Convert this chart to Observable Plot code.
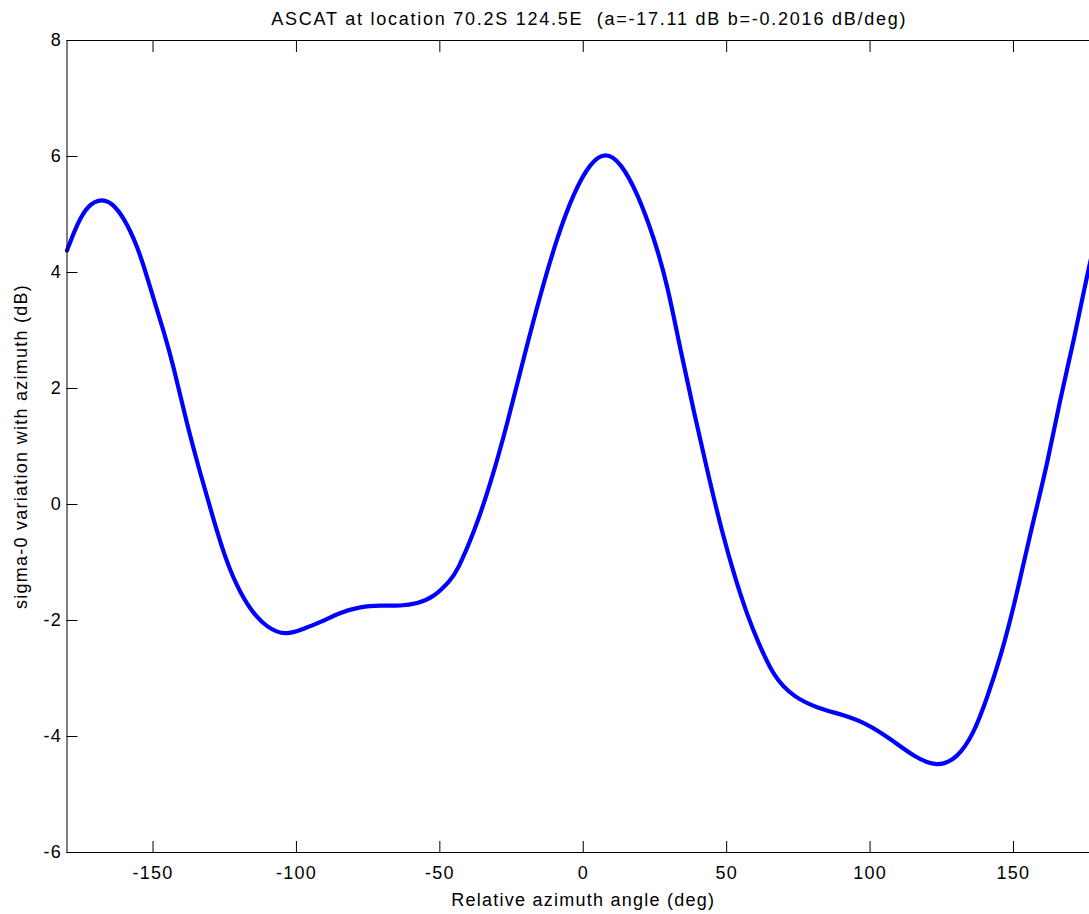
<!DOCTYPE html>
<html>
<head>
<meta charset="utf-8">
<script src="https://cdn.jsdelivr.net/npm/d3@7"></script>
<script src="https://cdn.jsdelivr.net/npm/@observablehq/plot@0.6"></script>
<style>
html, body { margin: 0; padding: 0; background: #fff; overflow: hidden; }
#chart { width: 1100px; height: 914px; overflow: hidden; }
#chart svg { max-width: none !important; }
</style>
</head>
<body>
<div id="chart"></div>
<script>
// Relative azimuth angle (deg)
const azimuth = [
  -180, -176.4, -173, -167.7, -163.1, -159, -154.4, -150.3, -146.2, -142.8,
  -138.5, -133.5, -128.8, -125.3, -121.2, -116, -110.2, -103.8, -97.4, -91.6,
  -84.6, -77.7, -70.7, -63.7, -57.9, -52.1, -46.3, -43.9, -38.2, -32.3,
  -26.5, -20.7, -14.9, -9.1, -3.3, 2.5, 7.8, 13, 18.8, 24.6,
  29.3, 33.9, 38.5, 43.2, 48.5, 53, 57.5, 60.7, 66.4, 73.4, 81.6,
  90.9, 99, 107.1, 115.3, 123.4, 130.4, 136.2, 140.9, 145.5, 150.1,
  154.8, 157.1, 161.8, 166.4, 171.1, 175.7, 180
];
// sigma-0 variation with azimuth (dB)
const sigma0 = [
  4.38, 4.84, 5.15, 5.29, 5.15, 4.84, 4.32, 3.62, 2.98, 2.37,
  1.45, 0.53, -0.28, -0.85, -1.37, -1.83, -2.13, -2.26, -2.14, -2.03,
  -1.86, -1.76, -1.74, -1.75, -1.71, -1.6, -1.31, -1.14, -0.5, 0.36,
  1.39, 2.54, 3.63, 4.61, 5.38, 5.9, 6.08, 5.9, 5.38, 4.61,
  3.8, 2.66, 1.62, 0.59, -0.5, -1.28, -1.95, -2.34, -2.98, -3.32, -3.51,
  -3.63, -3.78, -4.04, -4.35, -4.53, -4.38, -3.95, -3.32, -2.63, -1.77,
  -0.74, -0.25, 0.7, 1.85, 2.83, 3.98, 4.85
];
const xTicks = [-150, -100, -50, 0, 50, 100, 150];
const yTicks = [-6, -4, -2, 0, 2, 4, 6, 8];
const titleText = "ASCAT at location 70.2S 124.5E  (a=-17.11 dB b=-0.2016 dB/deg)";
const xLabel = "Relative azimuth angle (deg)";
const yLabel = "sigma-0 variation with azimuth (dB)";

const data = azimuth.map((a, i) => ({azimuth: a, sigma0: sigma0[i]}));
const fmt = d => String(d);

const chart = Plot.plot({
  width: 1100,
  height: 914,
  marginLeft: 66.5,
  marginRight: 1,
  marginTop: 40,
  marginBottom: 62,
  style: {
    fontFamily: "'Liberation Sans', Arial, Helvetica, sans-serif",
    fontSize: "18px",
    color: "#000",
    background: "#fff",
    letterSpacing: "1.25px",
    maxWidth: "none"
  },
  x: {domain: [-180, 180]},
  y: {domain: [-6, 8]},
  marks: [
    Plot.line(data, {x: "azimuth", y: "sigma0", stroke: "#0000ff", strokeWidth: 4.2, curve: "basis"}),
    Plot.frame({stroke: "#000", strokeWidth: 1}),
    Plot.axisX(xTicks, {anchor: "bottom", tickSize: -11, tickPadding: 25, tickFormat: fmt, label: null}),
    Plot.axisX(xTicks, {anchor: "top", tickSize: -11, tickFormat: () => "", label: null}),
    Plot.axisY(yTicks, {anchor: "left", tickSize: -11, tickPadding: 16, tickFormat: fmt, label: null}),
    Plot.axisY(yTicks, {anchor: "right", tickSize: -11, tickFormat: () => "", label: null}),
    Plot.text([xLabel], {frameAnchor: "bottom", dy: 48, lineAnchor: "middle", fontSize: 18}),
    Plot.text([yLabel], {frameAnchor: "left", dx: -46, rotate: -90, textAnchor: "middle", lineAnchor: "middle", fontSize: 18}),
    Plot.text([titleText], {frameAnchor: "top", dy: -21, dx: 6, lineAnchor: "middle", fontSize: 18})
  ]
});

chart.style.maxWidth = "none";
d3.select(chart).selectAll("text").filter(function () { return this.textContent === titleText; })
  .style("white-space", "pre").style("letter-spacing", "1.75px");

document.getElementById("chart").appendChild(chart);
</script>
</body>
</html>
